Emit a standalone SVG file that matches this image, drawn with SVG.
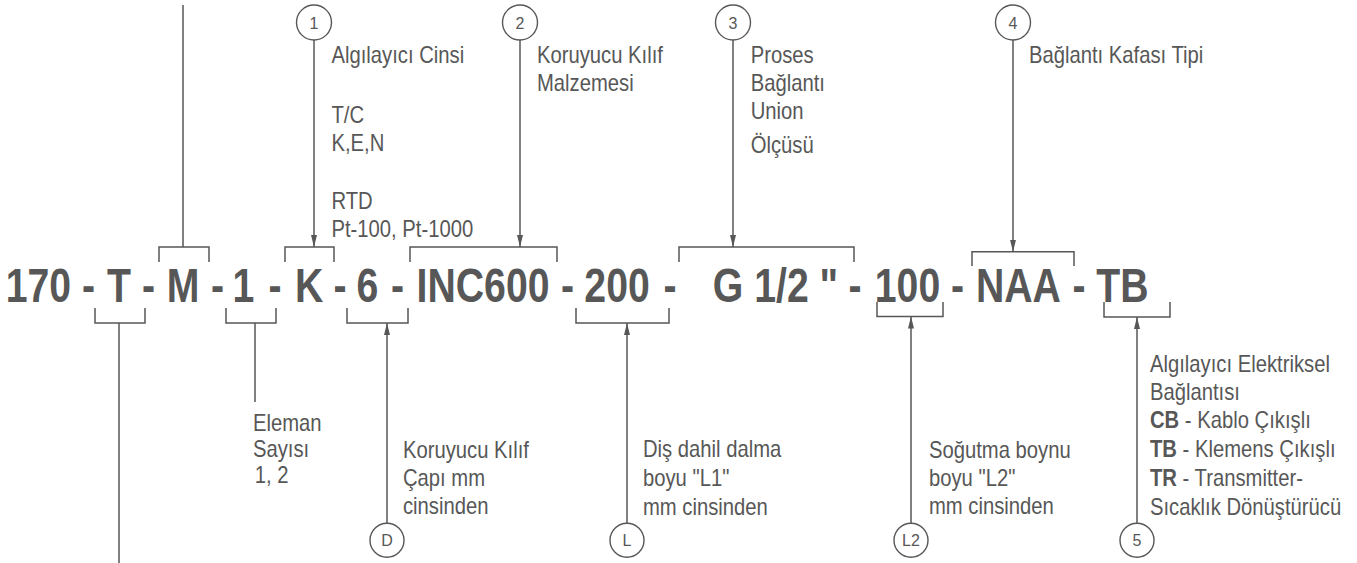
<svg xmlns="http://www.w3.org/2000/svg" width="1357" height="563" viewBox="0 0 1357 563">
<style>
.ln{fill:none;stroke:#575757;stroke-width:1.5}
.cir{fill:#fff;stroke:#575757;stroke-width:1.4}
.ct{font-family:"Liberation Sans",Arial,sans-serif;font-size:16px;fill:#575757;text-anchor:middle}
.lb{font-family:"Liberation Sans",Arial,sans-serif;font-size:23px;fill:#575757}
.code{font-family:"Liberation Sans",Arial,sans-serif;font-size:49px;font-weight:bold;fill:#575757;text-anchor:middle}
.b{font-weight:bold}
</style>
<defs>
<marker id="ah" markerUnits="userSpaceOnUse" markerWidth="12" markerHeight="6" refX="12" refY="3" orient="auto">
<path d="M0,0 L12,3 L0,6 z" fill="#575757"/>
</marker>
</defs>
<rect width="1357" height="563" fill="#fff"/>
<g id="code" transform="scale(0.8,1)">
<text class="code" x="48.1" y="302">170</text>
<text class="code" x="110.6" y="302">-</text>
<text class="code" x="148.8" y="302">T</text>
<text class="code" x="185.6" y="302">-</text>
<text class="code" x="228.8" y="302">M</text>
<text class="code" x="271.9" y="302">-</text>
<text class="code" x="304.4" y="302">1</text>
<text class="code" x="343.8" y="302">-</text>
<text class="code" x="386.3" y="302">K</text>
<text class="code" x="425" y="302">-</text>
<text class="code" x="459.4" y="302">6</text>
<text class="code" x="496.9" y="302">-</text>
<text class="code" x="603.8" y="302">INC600</text>
<text class="code" x="709.4" y="302">-</text>
<text class="code" x="771.3" y="302">200</text>
<text class="code" x="837.5" y="302">-</text>
<text class="code" x="969.4" y="302">G 1/2 "</text>
<text class="code" x="1068.8" y="302">-</text>
<text class="code" x="1134.4" y="302">100</text>
<text class="code" x="1196.9" y="302">-</text>
<text class="code" x="1273.1" y="302">NAA</text>
<text class="code" x="1348.8" y="302">-</text>
<text class="code" x="1403.1" y="302">TB</text>
</g>
<g id="connectors">
<path class="ln" d="M159,262 V247 H209 V262 M183,247 V5"/>
<path class="ln" d="M285,262 V247 H334 V262"/>
<path class="ln" d="M410,262 V247 H557 V262"/>
<path class="ln" d="M679,262 V247 H854 V262"/>
<path class="ln" d="M972,266 V251.7 H1074 V266"/>
<path class="ln" d="M95,308 V323 H145 V308 M119,323 V563"/>
<path class="ln" d="M226,308 V323 H276 V308 M255,323 V402"/>
<path class="ln" d="M347,308 V323 H408 V308"/>
<path class="ln" d="M576,308 V323 H669 V308"/>
<path class="ln" d="M877,302 V316.5 H943 V302"/>
<path class="ln" d="M1104,302 V317 H1170 V302"/>
<line class="ln" x1="314" y1="40" x2="314" y2="247" marker-end="url(#ah)"/>
<line class="ln" x1="520" y1="40" x2="520" y2="247" marker-end="url(#ah)"/>
<line class="ln" x1="733" y1="40" x2="733" y2="247" marker-end="url(#ah)"/>
<line class="ln" x1="1013" y1="40" x2="1013" y2="251.7" marker-end="url(#ah)"/>
<line class="ln" x1="387" y1="523" x2="387" y2="323" marker-end="url(#ah)"/>
<line class="ln" x1="627" y1="523" x2="627" y2="323" marker-end="url(#ah)"/>
<line class="ln" x1="911" y1="523" x2="911" y2="316.5" marker-end="url(#ah)"/>
<line class="ln" x1="1137" y1="523" x2="1137" y2="317" marker-end="url(#ah)"/>
</g>
<g id="n1">
<circle class="cir" cx="314" cy="22.5" r="17.5"/>
<text class="ct" x="314" y="28.5">1</text>
<g transform="translate(331.5,0) scale(0.88,1)">
<text class="lb"><tspan x="0" y="63">Algılayıcı Cinsi</tspan><tspan x="0" y="122.7">T/C</tspan><tspan x="0" y="150.7">K,E,N</tspan><tspan x="0" y="209.3">RTD</tspan><tspan x="0" y="237.3">Pt-100, Pt-1000</tspan></text>
</g>
</g>
<g id="n2">
<circle class="cir" cx="520" cy="22.5" r="17.5"/>
<text class="ct" x="520" y="28.5">2</text>
<g transform="translate(537,0) scale(0.88,1)">
<text class="lb"><tspan x="0" y="63.3">Koruyucu Kılıf</tspan><tspan x="0" y="91">Malzemesi</tspan></text>
</g>
</g>
<g id="n3">
<circle class="cir" cx="733" cy="22.5" r="17.5"/>
<text class="ct" x="733" y="28.5">3</text>
<g transform="translate(750.7,0) scale(0.88,1)">
<text class="lb"><tspan x="0" y="63.3">Proses</tspan><tspan x="0" y="91">Bağlantı</tspan><tspan x="0" y="119.5">Union</tspan><tspan x="0" y="153">Ölçüsü</tspan></text>
</g>
</g>
<g id="n4">
<circle class="cir" cx="1013" cy="22.5" r="17.5"/>
<text class="ct" x="1013" y="28.5">4</text>
<g transform="translate(1029,0) scale(0.88,1)">
<text class="lb"><tspan x="0" y="63">Bağlantı Kafası Tipi</tspan></text>
</g>
</g>
<g id="nE">
<g transform="translate(253,0) scale(0.88,1)">
<text class="lb"><tspan x="0" y="430.7">Eleman</tspan><tspan x="0" y="457">Sayısı</tspan><tspan x="2" y="482.7">1, 2</tspan></text>
</g>
</g>
<g id="nD">
<circle class="cir" cx="387" cy="540.3" r="17"/>
<text class="ct" x="387" y="546">D</text>
<g transform="translate(403,0) scale(0.88,1)">
<text class="lb"><tspan x="0" y="458.3">Koruyucu Kılıf</tspan><tspan x="0" y="485.7">Çapı mm</tspan><tspan x="0" y="514">cinsinden</tspan></text>
</g>
</g>
<g id="nL">
<circle class="cir" cx="627" cy="540.3" r="17"/>
<text class="ct" x="627" y="546">L</text>
<g transform="translate(643,0) scale(0.88,1)">
<text class="lb"><tspan x="0" y="457.3">Diş dahil dalma</tspan><tspan x="0" y="485.7">boyu "L1"</tspan><tspan x="0" y="515">mm cinsinden</tspan></text>
</g>
</g>
<g id="nL2">
<circle class="cir" cx="911" cy="540.3" r="17"/>
<text class="ct" x="911" y="546">L2</text>
<g transform="translate(929,0) scale(0.88,1)">
<text class="lb"><tspan x="0" y="458">Soğutma boynu</tspan><tspan x="0" y="486">boyu "L2"</tspan><tspan x="0" y="514">mm cinsinden</tspan></text>
</g>
</g>
<g id="n5">
<circle class="cir" cx="1137" cy="540.3" r="17"/>
<text class="ct" x="1137" y="546">5</text>
<g transform="translate(1150,0) scale(0.88,1)">
<text class="lb"><tspan x="0" y="371.7">Algılayıcı Elektriksel</tspan><tspan x="0" y="400">Bağlantısı</tspan><tspan x="0" y="428"><tspan class="b">CB</tspan> - Kablo Çıkışlı</tspan><tspan x="0" y="456.7"><tspan class="b">TB</tspan> - Klemens Çıkışlı</tspan><tspan x="0" y="486"><tspan class="b">TR</tspan> - Transmitter-</tspan><tspan x="0" y="515">Sıcaklık Dönüştürücü</tspan></text>
</g>
</g>
</svg>
